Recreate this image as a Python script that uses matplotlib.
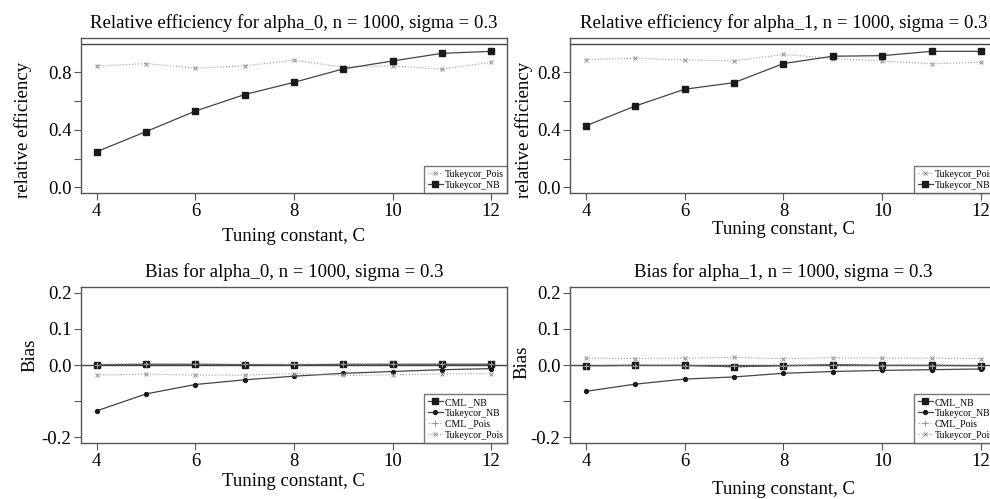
import matplotlib
matplotlib.use("Agg")
import matplotlib.pyplot as plt

plt.rcParams['font.family'] = ['Liberation Serif', 'DejaVu Serif']

C = [4, 5, 6, 7, 8, 9, 10, 11, 12]

# Relative efficiency, alpha_0
re0_pois = [0.844, 0.862, 0.830, 0.846, 0.885, 0.837, 0.846, 0.823, 0.871]
re0_nb = [0.248, 0.388, 0.531, 0.646, 0.731, 0.825, 0.880, 0.933, 0.947]
# Relative efficiency, alpha_1
re1_pois = [0.890, 0.899, 0.887, 0.880, 0.926, 0.897, 0.880, 0.860, 0.871]
re1_nb = [0.428, 0.566, 0.683, 0.729, 0.862, 0.913, 0.917, 0.947, 0.947]

# Bias, alpha_0
b0_cml_nb = [0.001, 0.002, 0.002, 0.001, 0.000, 0.002, 0.002, 0.002, 0.002]
b0_tuk_nb = [-0.127, -0.080, -0.054, -0.041, -0.031, -0.023, -0.018, -0.013, -0.010]
b0_cml_pois = [0.001, 0.003, 0.002, 0.002, 0.003, 0.002, 0.002, 0.003, 0.003]
b0_tuk_pois = [-0.028, -0.025, -0.028, -0.028, -0.024, -0.029, -0.027, -0.025, -0.024]
# Bias, alpha_1
b1_cml_nb = [-0.002, -0.001, -0.001, -0.005, -0.002, 0.001, -0.001, -0.001, -0.002]
b1_tuk_nb = [-0.073, -0.053, -0.039, -0.033, -0.023, -0.018, -0.015, -0.013, -0.011]
b1_cml_pois = [-0.003, -0.002, -0.002, -0.003, -0.002, 0.000, -0.002, -0.002, -0.003]
b1_tuk_pois = [0.019, 0.018, 0.019, 0.021, 0.0175, 0.020, 0.019, 0.019, 0.018]

re_ticks = [0.0, 0.2, 0.4, 0.6, 0.8]
re_labels = ['0.0', '', '0.4', '', '0.8']
bias_ticks = [-0.2, -0.1, 0.0, 0.1, 0.2]
bias_labels = ['-0.2', '', '0.0', '0.1', '0.2']
x_ticks = [4, 6, 8, 10, 12]

W, H = 990, 499
fig = plt.figure(figsize=(W / 100, H / 100), dpi=100)

def rect(x0, y0, x1, y1):
    return [x0 / W, 1 - y1 / H, (x1 - x0) / W, (y1 - y0) / H]

FRAME = '#555555'
DARK = '#1a1a1a'
LINE = '#444444'
GRAY = '#999999'

def style(ax, title, ylabel, yticks, ylabels, ylim, xlabpad, ylabpad, ylab_y):
    ax.set_xlim(3.68, 12.32)
    ax.set_ylim(*ylim)
    ax.set_xticks(x_ticks)
    ax.set_xticklabels([str(t) for t in x_ticks], fontsize=13.5)
    ax.set_yticks(yticks)
    ax.set_yticklabels(ylabels, fontsize=13.5)
    ax.tick_params(direction='out', length=5, width=0.8, color=FRAME, pad=2)
    for s in ax.spines.values():
        s.set_color(FRAME)
        s.set_linewidth(1.0)
    ax.set_title(title, fontsize=13.5, pad=7)
    ax.set_xlabel('Tuning constant, C', fontsize=13.5, labelpad=xlabpad)
    ax.set_ylabel(ylabel, fontsize=13.5, labelpad=ylabpad)
    ax.yaxis.label.set_y(ylab_y)

def legend(ax):
    lg = ax.legend(loc='lower right', borderaxespad=0, fontsize=7,
                   frameon=True, fancybox=False, edgecolor=FRAME,
                   handlelength=1.6, handletextpad=0.15, labelspacing=0.2,
                   borderpad=0.35)
    lg.get_frame().set_linewidth(1.0)
    return lg

def nb_line(ax, y, marker, ms, label):
    ax.plot(C, y, linestyle='-', color=LINE, marker=marker, ms=ms,
            mfc=DARK, mec=DARK, lw=0.9, label=label)

def pois_line(ax, y, marker, ms, label):
    ax.plot(C, y, linestyle=':', color=GRAY, marker=marker, ms=ms,
            mew=0.8, lw=0.8, label=label)

# Top-left
ax1 = fig.add_axes(rect(81, 38, 507, 193))
ax1.axhline(1.0, color='#444444', lw=1.0)
pois_line(ax1, re0_pois, 'x', 3.5, 'Tukeycor_Pois')
nb_line(ax1, re0_nb, 's', 4, 'Tukeycor_NB')
style(ax1, 'Relative efficiency for alpha_0, n = 1000, sigma = 0.3', 'relative efficiency',
      re_ticks, re_labels, (-0.04, 1.04), xlabpad=6, ylabpad=11, ylab_y=0.41)
legend(ax1)

# Top-right
ax2 = fig.add_axes(rect(570, 38, 997, 193))
ax2.axhline(1.0, color='#444444', lw=1.0)
pois_line(ax2, re1_pois, 'x', 3.5, 'Tukeycor_Pois')
nb_line(ax2, re1_nb, 's', 4, 'Tukeycor_NB')
style(ax2, 'Relative efficiency for alpha_1, n = 1000, sigma = 0.3', 'relative efficiency',
      re_ticks, re_labels, (-0.04, 1.04), xlabpad=1, ylabpad=3, ylab_y=0.41)
legend(ax2)

# Bottom-left
ax3 = fig.add_axes(rect(81, 287, 507, 443))
ax3.axhline(0.0, color='#444444', lw=1.0)
nb_line(ax3, b0_cml_nb, 's', 4, 'CML _NB')
nb_line(ax3, b0_tuk_nb, 'o', 2.8, 'Tukeycor_NB')
pois_line(ax3, b0_cml_pois, '+', 4, 'CML _Pois')
pois_line(ax3, b0_tuk_pois, 'x', 3.5, 'Tukeycor_Pois')
style(ax3, 'Bias for alpha_0, n = 1000, sigma = 0.3', 'Bias',
      bias_ticks, bias_labels, (-0.216, 0.216), xlabpad=2, ylabpad=2, ylab_y=0.56)
legend(ax3)

# Bottom-right
ax4 = fig.add_axes(rect(570, 287, 997, 443))
ax4.axhline(0.0, color='#444444', lw=1.0)
nb_line(ax4, b1_cml_nb, 's', 4, 'CML_NB')
nb_line(ax4, b1_tuk_nb, 'o', 2.8, 'Tukeycor_NB')
pois_line(ax4, b1_cml_pois, '+', 4, 'CML_Pois')
pois_line(ax4, b1_tuk_pois, 'x', 3.5, 'Tukeycor_Pois')
style(ax4, 'Bias for alpha_1, n = 1000, sigma = 0.3', 'Bias',
      bias_ticks, bias_labels, (-0.216, 0.216), xlabpad=8, ylabpad=0, ylab_y=0.52)
legend(ax4)

fig.savefig('out.png', dpi=100)
